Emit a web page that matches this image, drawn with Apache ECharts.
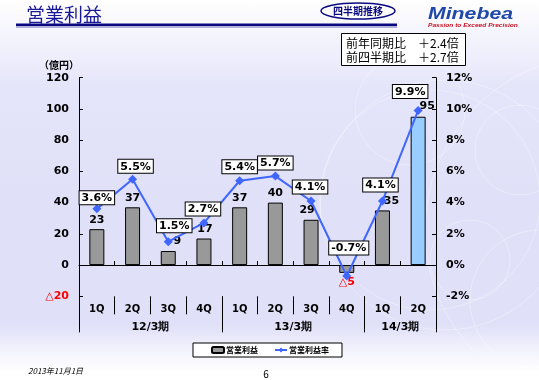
<!DOCTYPE html>
<html>
<head>
<meta charset="utf-8">
<script src="https://cdn.jsdelivr.net/npm/echarts@6/dist/echarts.min.js"></script>
<style>
html,body{margin:0;padding:0;}
body{width:539px;height:380px;background:linear-gradient(to bottom,#ffffff 0px,#f4f4fd 35px,#e4e4fa 90px,#e0e0f8 200px,#e0e0f8 325px,#f2f2fc 350px,#ffffff 372px);}
#c{width:539px;height:380px;}
</style>
</head>
<body>
<div id="c"></div>
<script>
// ---- data ----
var quarters = ['1Q','2Q','3Q','4Q','1Q','2Q','3Q','4Q','1Q','2Q'];
var fiscalYears = ['12/3期','13/3期','14/3期'];
var fiscalYearSizes = [4,4,2];
var operatingProfit = [23,37,9,17,37,40,29,-5,35,95];
var operatingMargin = [3.6,5.5,1.5,2.7,5.4,5.7,4.1,-0.7,4.1,9.9];
var leftTicks = [-20,0,20,40,60,80,100,120];
var rightTicks = [-2,0,2,4,6,8,10,12];
var seriesNames = ['営業利益','営業利益率'];

// ---- label placement (styling only) ----
var barLabelShift = [[0,0],[0,0],[9,0],[1,0],[0,0],[0,0],[-4,0],[0,0],[9,0],[9,-1]];
var lineLabelShift = [[0,3],[3,1],[6,-2],[-1,0],[0,0],[0,1],[-1,0],[2,-14],[-2,-2],[-8,-5]];

var NUM = 'DejaVu Sans';
var JP = '"Noto Sans CJK JP"';

var N = quarters.length;
var bounds = [0], centers = [], acc = 0;
fiscalYearSizes.forEach(function (s) { centers.push(acc + s / 2); acc += s; bounds.push(acc); });

var barData = operatingProfit.map(function (v, i) {
  var last = i === N - 1;
  return {
    value: v,
    itemStyle: { color: last ? '#99ccff' : '#999999' },
    label: {
      position: v < 0 ? 'bottom' : 'top',
      offset: barLabelShift[i],
      color: v < 0 ? '#ff0000' : '#000000'
    }
  };
});
var lineData = operatingMargin.map(function (v, i) {
  return { value: v, label: { offset: lineLabelShift[i] } };
});

var chart = echarts.init(document.getElementById('c'), null, { renderer: 'canvas' });

var circles = [
  { cx: 520, cy: 150, r: 45 }, { cx: 540, cy: 300, r: 70 }, { cx: 470, cy: 260, r: 40 },
  { cx: 430, cy: 200, r: 110 }, { cx: 445, cy: 205, r: 125 }, { cx: 600, cy: 230, r: 175 },
  { cx: 410, cy: 110, r: 55 }
].map(function (c) {
  return { type: 'circle', silent: true, z: -10, shape: c,
    style: { fill: 'none', stroke: 'rgba(255,255,255,0.35)', lineWidth: 1 } };
});

var option = {
  animation: false,
  textStyle: { fontFamily: NUM },
  grid: { left: 79, right: 103, top: 77.7, bottom: 83.7, containLabel: false },
  legend: {
    data: [seriesNames[0], seriesNames[1]],
    left: 193, top: 343, width: 149, height: 15,
    padding: [3, 13, 3, 18],
    itemGap: 16,
    itemWidth: 12, itemHeight: 6,
    backgroundColor: '#ffffff', borderColor: '#000000', borderWidth: 1,
    textStyle: { fontFamily: JP, fontSize: 8, fontWeight: 'bold', color: '#000', padding: [0, 0, 0, -3] },
    selectedMode: false
  },
  xAxis: [
    {
      type: 'category', data: quarters, gridIndex: 0,
      axisLine: { onZero: true, lineStyle: { color: '#000', width: 1 } },
      axisTick: { show: true, inside: true, length: 4, lineStyle: { color: '#000' } },
      axisLabel: { show: false }, splitLine: { show: false }
    },
    {
      type: 'category', data: quarters, position: 'bottom', offset: 0,
      axisLine: { show: false, onZero: false },
      axisTick: { show: true, length: 18, lineStyle: { color: '#000' } },
      axisLabel: { show: true, margin: 8, fontFamily: NUM, fontSize: 10, fontWeight: 'bold', color: '#000' },
      splitLine: { show: false }
    },
    {
      type: 'value', min: 0, max: N, position: 'bottom', offset: 0,
      axisLine: { show: false, onZero: false },
      axisTick: { show: true, length: 36, customValues: bounds, lineStyle: { color: '#000' } },
      axisLabel: {
        show: true, margin: 25, customValues: centers,
        fontFamily: NUM, fontSize: 11, fontWeight: 'bold', color: '#000',
        formatter: function (v) { var k = centers.indexOf(v); return k >= 0 ? fiscalYears[k] : ''; }
      },
      splitLine: { show: false }
    }
  ],
  yAxis: [
    {
      type: 'value', min: leftTicks[0], max: leftTicks[leftTicks.length - 1], interval: 20,
      axisLine: { show: true, lineStyle: { color: '#000' } },
      axisTick: { show: true, inside: true, length: 4, lineStyle: { color: '#000' } },
      splitLine: { show: false },
      axisLabel: {
        margin: 10, fontSize: 11, fontWeight: 'bold', color: '#000',
        formatter: function (v) { return v < 0 ? '{neg|△' + (-v) + '}' : String(v); },
        rich: { neg: { color: '#ff0000', fontSize: 11, fontWeight: 'bold', fontFamily: NUM } }
      }
    },
    {
      type: 'value', min: rightTicks[0], max: rightTicks[rightTicks.length - 1], interval: 2,
      position: 'right',
      axisLine: { show: true, lineStyle: { color: '#000' } },
      axisTick: { show: true, inside: true, length: 4, lineStyle: { color: '#000' } },
      splitLine: { show: false },
      axisLabel: { margin: 10, fontSize: 11, fontWeight: 'bold', color: '#000', formatter: '{value}%' }
    }
  ],
  series: [
    {
      name: seriesNames[0], type: 'bar', xAxisIndex: 0, yAxisIndex: 0,
      data: barData, barWidth: 15,
      itemStyle: { color: '#999999', borderColor: '#000000', borderWidth: 1 },
      label: {
        show: true, distance: 4, fontFamily: NUM, fontSize: 11, fontWeight: 'bold',
        formatter: function (p) { return p.value < 0 ? '△' + (-p.value) : String(p.value); }
      },
      z: 2
    },
    {
      name: seriesNames[1], type: 'line', xAxisIndex: 0, yAxisIndex: 1,
      data: lineData,
      symbol: 'diamond', symbolSize: 9,
      lineStyle: { color: '#3f66ff', width: 2 },
      itemStyle: { color: '#3f66ff' },
      label: {
        show: true, position: 'top', distance: 3,
        formatter: '{c}%', fontFamily: NUM, fontSize: 11, fontWeight: 'bold', color: '#000',
        backgroundColor: '#ffffff', borderColor: '#000000', borderWidth: 1,
        padding: [1, 2, 0, 2], lineHeight: 12
      },
      z: 5
    }
  ],
  graphic: circles.concat([
    { type: 'text', left: 26, top: 5, style: { text: '営業利益', fill: '#1a1a99', font: '19px ' + JP } },
    { type: 'rect', shape: { x: 16, y: 23.5, width: 381, height: 2.5 }, style: { fill: '#0a0a80' } },
    { type: 'rect', shape: { x: 16, y: 26.5, width: 381, height: 1 }, style: { fill: '#6a6ab8' } },
    { type: 'ellipse', shape: { cx: 358, cy: 11, rx: 37, ry: 8 }, style: { fill: '#ffffff', stroke: '#0a0a80', lineWidth: 1.5 } },
    { type: 'text', x: 358, y: 11, style: { text: '四半期推移', fill: '#0a0a80', font: 'bold 10px ' + JP, align: 'center', verticalAlign: 'middle' } },
    { type: 'text', x: 428, y: 14, scaleX: 1.25, originX: 0, originY: 0,
      style: { x: 0, y: 0, text: 'Minebea', fill: '#1f48a8', font: 'italic bold 17px "Liberation Sans"', verticalAlign: 'middle' } },
    { type: 'text', x: 428, y: 25, scaleX: 1.1, originX: 0, originY: 0,
      style: { x: 0, y: 0, text: 'Passion to Exceed Precision', fill: '#cc1122', font: 'italic bold 6px "Liberation Sans"', verticalAlign: 'middle' } },
    { type: 'rect', shape: { x: 341.5, y: 33.5, width: 124, height: 32 }, style: { fill: '#ffffff', stroke: '#000', lineWidth: 1 } },
    { type: 'text', x: 346, y: 43.5, style: { text: '前年同期比　＋2.4倍', fill: '#000', font: '12px ' + JP, verticalAlign: 'middle' } },
    { type: 'text', x: 346, y: 57, style: { text: '前四半期比　＋2.7倍', fill: '#000', font: '12px ' + JP, verticalAlign: 'middle' } },
    { type: 'text', x: 59, y: 65, style: { text: '（億円）', fill: '#000', font: 'bold 10px ' + JP, align: 'center', verticalAlign: 'middle' } },
    { type: 'text', x: 28, y: 370.5, style: { text: '2013年11月1日', fill: '#000', font: 'italic 8px ' + JP, verticalAlign: 'middle' } },
    { type: 'text', x: 266, y: 374.5, style: { text: '6', fill: '#000', font: '10px ' + JP, align: 'center', verticalAlign: 'middle' } }
  ])
};
chart.setOption(option);
</script>
</body>
</html>
